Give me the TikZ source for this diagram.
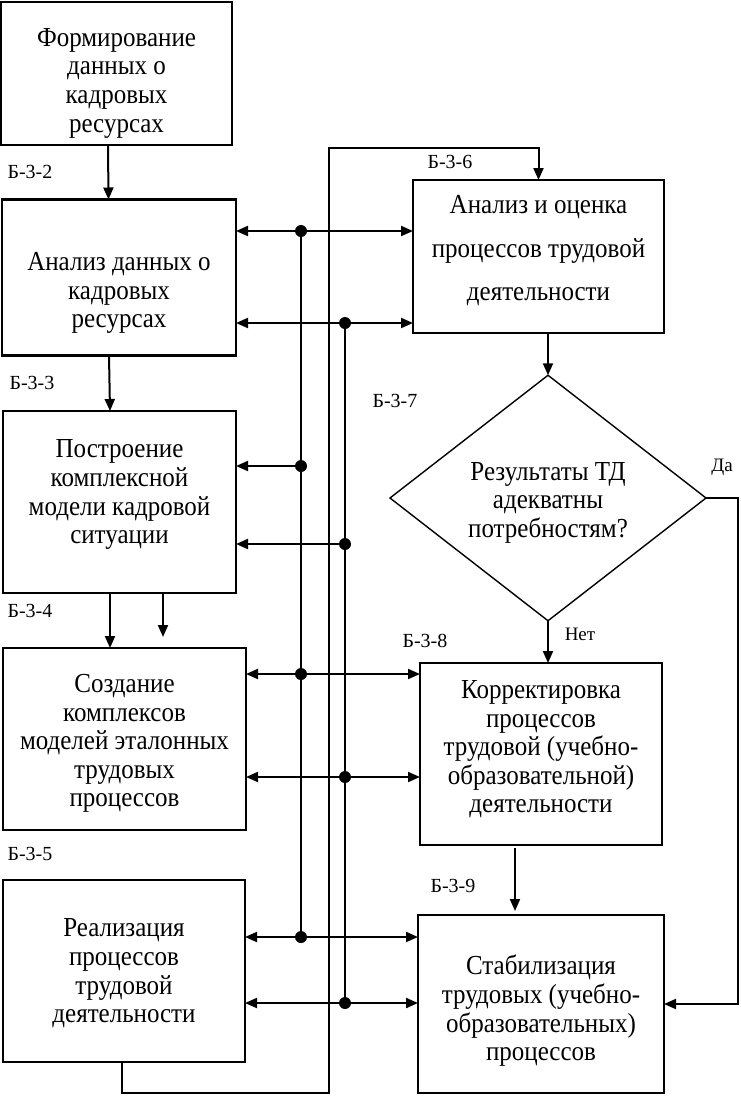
\documentclass[tikz,border=0pt]{standalone}
\usepackage{fontspec}
\setmainfont{Liberation Serif}
\usepackage{graphicx}
\usetikzlibrary{arrows.meta,shapes.geometric}
\newcommand\stxt[2][0pt]{\raisebox{#1}[\height][\depth]{\scalebox{1}[1.1]{\begin{tabular}{@{}c@{}}#2\end{tabular}}}}
\begin{document}
\begin{tikzpicture}[x=1pt,y=-1pt,
  box/.style={draw, line width=2.2pt, inner sep=0pt, outer sep=0pt, font=\fontsize{25}{26}\selectfont, align=center},
  dia/.style={draw, diamond, line width=1.4pt, inner sep=0pt, outer sep=0pt, font=\fontsize{25}{26}\selectfont, align=center},
  lbl/.style={font=\fontsize{20}{22}\selectfont, inner sep=0pt},
  wire/.style={line width=2pt},
  arr/.style={line width=2pt, -{Triangle[length=12pt,width=10pt]}},
  barr/.style={line width=2pt, {Triangle[length=12pt,width=10pt]}-{Triangle[length=12pt,width=10pt]}},
  jdot/.style={circle, fill, inner sep=0pt, minimum size=12pt}
]
\fill[white] (0,0) rectangle (741,1098);
\useasboundingbox (0,0) rectangle (741,1098);

% boxes
\node[box, minimum width=231pt, minimum height=143pt] (b1) at (116.5,73.5) {\stxt[-10pt]{Формирование\\данных о\\кадровых\\ресурсах}};
\node[box, minimum width=234pt, minimum height=156pt] (b2) at (119,277.5) {\stxt[-16pt]{Анализ данных о\\кадровых\\ресурсах}};
\node[box, minimum width=233pt, minimum height=182pt] (b3) at (119.5,502) {\stxt[7pt]{Построение\\комплексной\\модели кадровой\\ситуации}};
\node[box, minimum width=243pt, minimum height=182pt] (b4) at (124.5,739) {\stxt[-5pt]{Создание\\комплексов\\моделей эталонных\\трудовых\\процессов}};
\node[box, minimum width=242pt, minimum height=182pt] (b5) at (124,971) {\stxt[-3pt]{Реализация\\процессов\\трудовой\\деятельности}};
\node[box, minimum width=251pt, minimum height=153pt] (b6) at (538.5,256.5) {\renewcommand\arraystretch{1.52}\stxt[8pt]{Анализ и оценка\\процессов трудовой\\деятельности}};
\node[dia, minimum width=316pt, minimum height=236pt] (d7) at (548,498) {\stxt[-5pt]{Результаты ТД\\адекватны\\потребностям?}};
\node[box, minimum width=242pt, minimum height=182pt] (b8) at (541,754) {\stxt[4pt]{Корректировка\\процессов\\трудовой (учебно-\\образовательной)\\деятельности}};
\node[box, minimum width=246pt, minimum height=178pt] (b9) at (541,1004) {\stxt[-8pt]{Стабилизация\\трудовых (учебно-\\образовательных)\\процессов}};

% labels
\node[lbl] (l2) at (30,172) {Б-3-2};
\node[lbl] (l3) at (32,383) {Б-3-3};
\node[lbl] (l4) at (30,611) {Б-3-4};
\node[lbl] (l5) at (30,854) {Б-3-5};
\node[lbl] (l6) at (450,162) {Б-3-6};
\node[lbl] (l7) at (395,401) {Б-3-7};
\node[lbl] (l8) at (425,641) {Б-3-8};
\node[lbl] (l9) at (453,886) {Б-3-9};
\node[lbl, font=\fontsize{19}{20}\selectfont] (yes) at (722,467) {Да};
\node[lbl, font=\fontsize{19}{20}\selectfont] (no) at (580,634) {Нет};

% vertical flow
\draw[arr] ([xshift=-8.5pt]b1.south) -- ([xshift=-10.5pt]b2.north);
\draw[arr] ([xshift=-10pt]b2.south) -- ([xshift=-9.5pt]b3.north);
\draw[arr] ([xshift=-9.5pt]b3.south) -- ([xshift=-14.5pt]b4.north);
\draw[arr] ([xshift=43.5pt]b3.south) -- ([xshift=38.5pt,yshift=11pt]b4.north);
\draw[arr] (d7.north |- b6.south) -- (d7.north);
\draw[arr] (d7.south) -- (d7.south |- b8.north);
\draw[arr] ([xshift=-26pt,yshift=-3pt]b8.south) -- ([xshift=-26pt,yshift=4pt]b9.north);
\draw[arr] (d7.east) -- ++(32,0) |- (b9.east);

% bus junctions
\coordinate (a1) at (301,231);
\coordinate (a2) at (301,466);
\coordinate (a3) at (301,674);
\coordinate (a4) at (301,937);
\coordinate (c1) at (345,323);
\coordinate (c2) at (345,544);
\coordinate (c3) at (345,777);
\coordinate (c4) at (345,1003);
\draw[wire] (a1) -- (a4);
\draw[wire] (c1) -- (c4);
\draw[arr] ([xshift=-2pt]b5.south) -- ++(0,31) -| (329,148) -| (b6.north);

\draw[barr] (a1 -| b2.east) -- (a1 -| b6.west);
\draw[barr] (c1 -| b2.east) -- (c1 -| b6.west);
\draw[arr] (a2) -- (a2 -| b3.east);
\draw[arr] (c2) -- (c2 -| b3.east);
\draw[barr] (a3 -| b4.east) -- (a3 -| b8.west);
\draw[barr] (c3 -| b4.east) -- (c3 -| b8.west);
\draw[barr] (a4 -| b5.east) -- (a4 -| b9.west);
\draw[barr] (c4 -| b5.east) -- (c4 -| b9.west);

\foreach \p in {a1,a2,a3,a4,c1,c2,c3,c4} \node[jdot] at (\p) {};
\end{tikzpicture}
\end{document}
